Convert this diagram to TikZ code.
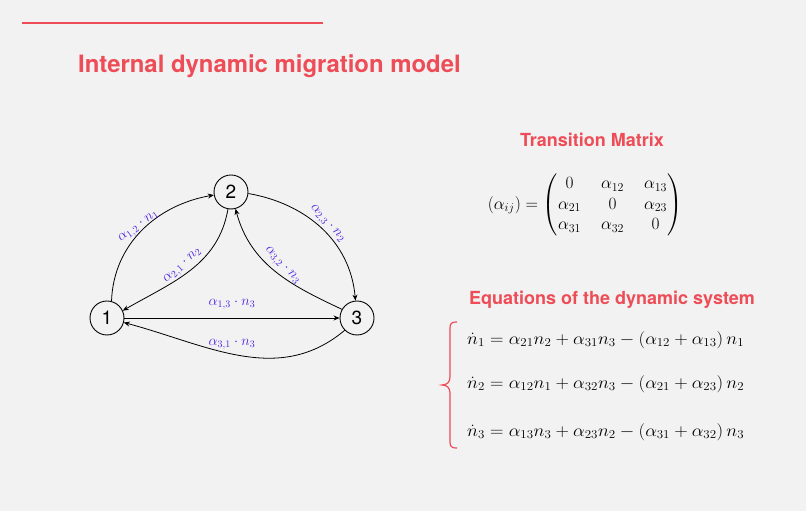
\documentclass[tikz,border=0pt]{standalone}
\usepackage{amsmath}
\usepackage{fontspec}
\setsansfont{TeX Gyre Heros}
\usetikzlibrary{arrows.meta}
\definecolor{bg}{RGB}{242,242,242}
\definecolor{accent}{RGB}{238,76,86}
\definecolor{lab}{RGB}{78,34,226}
\begin{document}
\begin{tikzpicture}[x=1pt,y=1pt,
  state/.style={draw,circle,line width=0.9pt,minimum size=34pt,inner sep=0pt,
    font=\sffamily\fontsize{19}{19}\selectfont},
  edge/.style={-{Stealth[length=6pt,width=5pt]},line width=0.8pt},
  elab/.style={text=lab,font=\fontsize{14}{14}\selectfont,inner sep=1pt},
  heading/.style={text=accent,font=\sffamily\bfseries\fontsize{18}{18}\selectfont},
  eq/.style={font=\fontsize{18.5}{18.5}\selectfont,anchor=west,inner sep=0pt,xscale=1.08,transform shape}]
\fill[bg] (0,0) rectangle (806,511);
\useasboundingbox (0,0) rectangle (806,511);
% top rule and title
\draw[accent,line width=2pt] (22,488) -- (323,488);
\node[text=accent,font=\sffamily\bfseries\fontsize{23.9}{24}\selectfont,anchor=west,inner sep=0pt] (title) at (78,445) {Internal dynamic migration model};
% states
\node[state] (n1) at (107,193) {1};
\node[state] (n2) at (231,319) {2};
\node[state] (n3) at (357,193) {3};
% edges
\draw[edge] (n1.75) to[out=88,in=190] (n2.190);
\draw[edge] (n2.-100) to[out=-100,in=30] (n1.25);
\draw[edge] (n2.-5) to[out=-10,in=95] (n3.95);
\draw[edge] (n3.150) to[out=155,in=-75] (n2.-75);
\draw[edge] (n1) -- (n3);
\draw[edge] (n3.-135) to[out=-140,in=-15] (n1.-15);
% edge labels
\node[elab,rotate=36] (l12) at (139,284) {$\alpha_{1,2}\cdot n_1$};
\node[elab,rotate=42] (l21) at (183,245) {$\alpha_{2,1}\cdot n_2$};
\node[elab,rotate=-48] (l23) at (327,287) {$\alpha_{2,3}\cdot n_2$};
\node[elab,rotate=-47] (l32) at (282,245) {$\alpha_{3,2}\cdot n_3$};
\node[elab] (l13) at (232,207) {$\alpha_{1,3}\cdot n_3$};
\node[elab] (l31) at (232,167) {$\alpha_{3,1}\cdot n_3$};
% transition matrix
\node[heading] (tm) at (592,371) {Transition Matrix};
\node[font=\fontsize{18.5}{18.5}\selectfont] (mat) at (585,306) {\setlength\arraycolsep{10pt}\renewcommand\arraystretch{1.1}$(\alpha_{ij})=\begin{pmatrix}0 & \alpha_{12} & \alpha_{13}\\ \alpha_{21} & 0 & \alpha_{23}\\ \alpha_{31} & \alpha_{32} & 0\end{pmatrix}$};
% equations
\node[heading] (es) at (612,211) {Equations of the dynamic system};
\draw[accent,line width=1.2pt] (457,189) .. controls (449,189) and (450,186) .. (450,178)
  -- (450,134) .. controls (450,129) and (447,126) .. (442,126)
  .. controls (447,126) and (450,123) .. (450,118)
  -- (450,74) .. controls (450,66) and (449,63) .. (457,63);
\node[eq] (e1) at (467,171) {$\dot n_1=\alpha_{21}n_2+\alpha_{31}n_3-(\alpha_{12}+\alpha_{13})\,n_1$};
\node[eq] (e2) at (467,127) {$\dot n_2=\alpha_{12}n_1+\alpha_{32}n_3-(\alpha_{21}+\alpha_{23})\,n_2$};
\node[eq] (e3) at (467,79) {$\dot n_3=\alpha_{13}n_3+\alpha_{23}n_2-(\alpha_{31}+\alpha_{32})\,n_3$};
\end{tikzpicture}
\end{document}
